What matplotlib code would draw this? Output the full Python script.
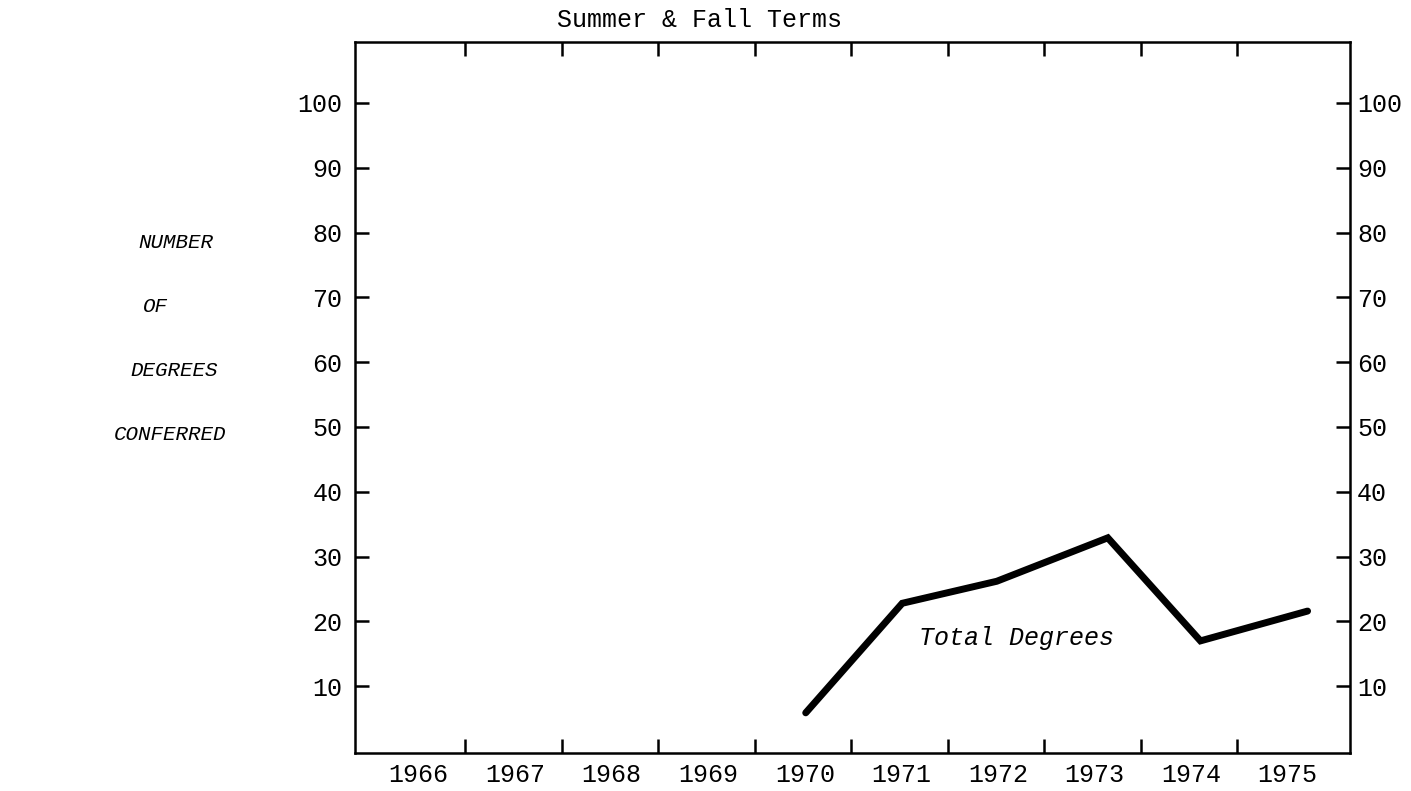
import matplotlib.pyplot as plt
import matplotlib.transforms as mtransforms
import numpy as np

# 数据
years = [1966, 1967, 1968, 1969, 1970, 1971, 1972, 1973, 1974, 1975]
year_labels = [str(y) for y in years]
point_x = [1970.01, 1971.01, 1971.99, 1973.14, 1974.10, 1975.21]
total_degrees = [5.9, 22.8, 26.2, 32.9, 17.0, 21.6]
y_ticks = [10, 20, 30, 40, 50, 60, 70, 80, 90, 100]
side_label = ['NUMBER', 'OF', 'DEGREES', 'CONFERRED']

font = 'Liberation Mono'

fig = plt.figure(figsize=(14.11, 7.91), dpi=100)
ax = fig.add_axes([0.2516, 0.048, 0.7052, 0.899])

# 折线
ax.plot(point_x, total_degrees, color='black', linewidth=5,
        solid_capstyle='round', solid_joinstyle='miter')

ax.set_xlim(1965.34, 1975.65)
ax.set_ylim(-0.3, 109.4)

# 坐标轴边框
for s in ax.spines.values():
    s.set_linewidth(1.8)

# x 轴: 刻度线在年份之间, 标签在年份中心
ax.set_xticks([y + 0.48 for y in years[:-1]])
ax.set_xticklabels([])
ax.set_xticks(years, minor=True)
ax.set_xticklabels(year_labels, minor=True, fontsize=18, family=font)
ax.tick_params(axis='x', which='major', direction='in', length=10, width=1.8,
               top=True, bottom=True)
ax.tick_params(axis='x', which='minor', length=0, pad=7)

# y 轴: 左右两侧都有标签
ax.set_yticks(y_ticks)
ax.set_yticklabels([str(v) for v in y_ticks], fontsize=18, family=font)
ax.tick_params(axis='y', direction='in', length=10, width=1.8,
               left=True, right=True, labelleft=True, labelright=True, pad=9)
# 右侧标签离边框更近一些
shift = mtransforms.ScaledTranslation(-4 / 72, 0, fig.dpi_scale_trans)
for t in ax.yaxis.get_major_ticks():
    t.label2.set_fontsize(18)
    t.label2.set_family(font)
    t.label2.set_transform(t.label2.get_transform() + shift)

ax.text(1972.19, 17.4, 'Total Degrees', fontsize=18, family=font,
        style='italic', ha='center', va='center')

fig.text(0.496, 0.975, 'Summer & Fall Terms', fontsize=18, family=font,
         ha='center', va='center')

# 左侧竖排说明
label_x = [176, 155, 174, 170]
label_y = [242, 306, 370, 434]
for txt, lx, ly in zip(side_label, label_x, label_y):
    fig.text(lx / 1411, 1 - ly / 791, txt, fontsize=15, family=font,
             style='italic', ha='center', va='center')

fig.savefig('out.png', dpi=100)
